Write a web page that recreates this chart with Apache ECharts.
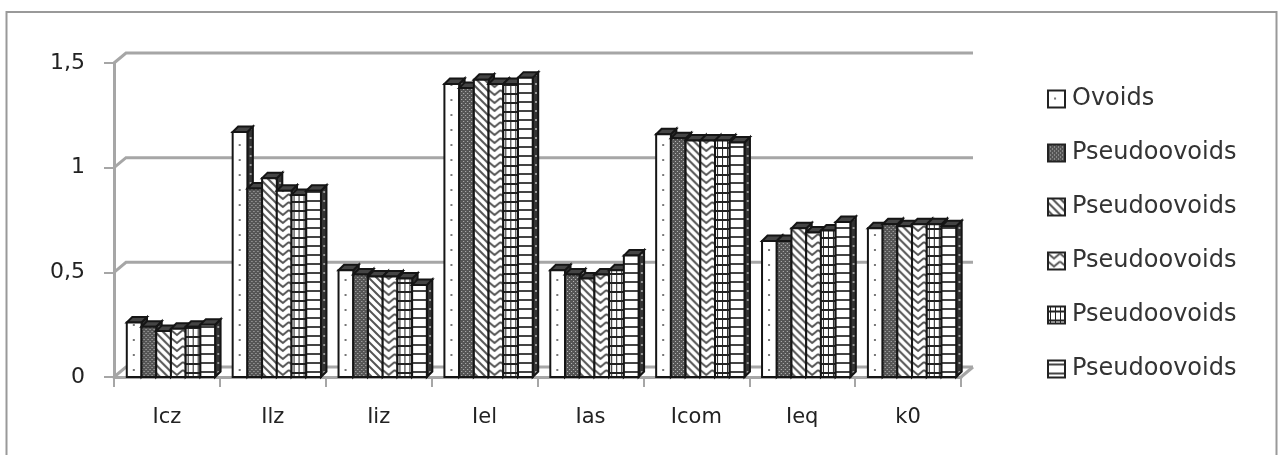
<!DOCTYPE html>
<html>
<head>
<meta charset="utf-8">
<title>Ovoids</title>
<script src="https://cdn.jsdelivr.net/npm/echarts@6/dist/echarts.min.js"></script>
<style>
    html, body { margin: 0; padding: 0; background: #fff; overflow: hidden; }
    /* the source picture is a soft upscaled screenshot */
    #container { width: 1282px; height: 455px; filter: blur(0.6px); }
</style>
</head>
<body>
<div id="container"></div>
<script>
    var categories = ['Icz', 'Ilz', 'Iiz', 'Iel', 'Ias', 'Icom', 'Ieq', 'k0'];
    var seriesNames = ['Ovoids', 'Pseudoovoids', 'Pseudoovoids', 'Pseudoovoids', 'Pseudoovoids', 'Pseudoovoids'];
    var ovoids = [0.26, 1.17, 0.51, 1.40, 0.51, 1.16, 0.65, 0.71];
    var pseudo1 = [0.24, 0.90, 0.49, 1.38, 0.49, 1.14, 0.65, 0.73];
    var pseudo2 = [0.22, 0.95, 0.48, 1.42, 0.47, 1.13, 0.71, 0.72];
    var pseudo3 = [0.23, 0.89, 0.48, 1.40, 0.49, 1.13, 0.69, 0.73];
    var pseudo4 = [0.24, 0.87, 0.47, 1.40, 0.51, 1.13, 0.70, 0.73];
    var pseudo5 = [0.25, 0.89, 0.44, 1.43, 0.58, 1.12, 0.74, 0.72];
    var gridValues = [0, 0.5, 1, 1.5];

    var depthX = 12, depthY = 10;   // back wall offset
    var barDepth = 5.5;

    function tile(w, h, draw) {
        var c = document.createElement('canvas');
        c.width = w;
        c.height = h;
        var ctx = c.getContext('2d');
        ctx.fillStyle = '#fff';
        ctx.fillRect(0, 0, w, h);
        draw(ctx);
        return {image: c, repeat: 'repeat'};
    }

    var patterns = [
        tile(15, 15, function (ctx) {
            ctx.fillStyle = '#777';
            ctx.fillRect(6, 7, 2, 2);
        }),
        tile(4, 4, function (ctx) {
            ctx.fillStyle = '#555';
            ctx.fillRect(0, 0, 4, 4);
            ctx.fillStyle = '#bbb';
            ctx.fillRect(0, 0, 1, 1);
            ctx.fillRect(2, 2, 1, 1);
        }),
        tile(8, 8, function (ctx) {
            ctx.strokeStyle = '#555';
            ctx.lineWidth = 2;
            ctx.beginPath();
            ctx.moveTo(-2, 2); ctx.lineTo(6, 10);
            ctx.moveTo(2, -2); ctx.lineTo(10, 6);
            ctx.stroke();
        }),
        tile(12, 8, function (ctx) {
            ctx.strokeStyle = '#555';
            ctx.lineWidth = 2;
            ctx.beginPath();
            ctx.moveTo(0, 1); ctx.lineTo(6, 6); ctx.lineTo(12, 1);
            ctx.stroke();
        }),
        tile(5, 9, function (ctx) {
            ctx.fillStyle = '#222';
            ctx.fillRect(2, 0, 1, 9);
            ctx.fillRect(0, 4, 5, 2);
        }),
        tile(15, 9, function (ctx) {
            ctx.fillStyle = '#444';
            ctx.fillRect(0, 3, 15, 2);
        })
    ];
    var sidePattern = tile(4, 9, function (ctx) {
        ctx.fillStyle = '#333';
        ctx.fillRect(0, 0, 4, 9);
        ctx.fillStyle = '#999';
        ctx.fillRect(1, 3, 2, 2);
    });

    function renderBar(seriesIndex) {
        return function (params, api) {
            var base = api.coord([api.value(0), 0]);
            var top = api.coord([api.value(0), api.value(1)]);
            var band = api.size([1, 0])[0];
            var w = band * 0.139;
            var x = base[0] - 3 * w + 4 + seriesIndex * w;
            var h = base[1] - top[1];
            var line = {stroke: '#151515', lineWidth: 2};
            return {
                type: 'group',
                x: x,
                y: base[1],
                children: [
                    {
                        type: 'polygon',
                        shape: {points: [[w, 0], [w + barDepth, -barDepth], [w + barDepth, -h - barDepth], [w, -h]]},
                        style: Object.assign({fill: sidePattern}, line)
                    },
                    {
                        type: 'polygon',
                        shape: {points: [[0, -h], [barDepth, -h - barDepth], [w + barDepth, -h - barDepth], [w, -h]]},
                        style: Object.assign({fill: '#444'}, line)
                    },
                    {
                        type: 'rect',
                        shape: {x: 0, y: -h, width: w, height: h},
                        style: Object.assign({fill: patterns[seriesIndex]}, line)
                    }
                ]
            };
        };
    }

    function renderWall(params, api) {
        var cs = params.coordSys;
        var y = api.coord([0, api.value(0)])[1];
        var right = cs.x + cs.width;
        var style = {fill: 'none', stroke: '#a6a6a6', lineWidth: 3};
        var children = [{
            type: 'polyline',
            shape: {points: [[cs.x, y], [cs.x + depthX, y - depthY], [right + depthX, y - depthY]]},
            style: style
        }];
        if (api.value(0) === 0) {
            children.push({
                type: 'line',
                shape: {x1: right, y1: y, x2: right + depthX, y2: y - depthY},
                style: style
            });
        }
        return {type: 'group', children: children};
    }

    var seriesValues = [ovoids, pseudo1, pseudo2, pseudo3, pseudo4, pseudo5];
    var series = [{
        type: 'custom',
        name: 'wall',
        renderItem: renderWall,
        clip: false,
        silent: true,
        encode: {y: 0},
        data: gridValues.map(function (v) { return [v]; }),
        z: 1
    }];
    // legend drops repeated names, so each series keeps a numbered name
    var legendNames = [];
    seriesValues.forEach(function (values, i) {
        var name = seriesNames[i] + ' ' + i;
        legendNames.push(name);
        series.push({
            type: 'custom',
            name: name,
            renderItem: renderBar(i),
            clip: false,
            encode: {x: 0, y: 1},
            itemStyle: {color: patterns[i], borderColor: '#222', borderWidth: 2},
            data: values.map(function (v, k) { return [k, v]; }),
            z: 2
        });
    });

    var myChart = echarts.init(document.getElementById('container'));
    var option = {
        animation: false,
        backgroundColor: '#fff',
        graphic: [{
            type: 'rect',
            shape: {x: 6.5, y: 12, width: 1270, height: 460},
            style: {fill: 'none', stroke: '#999', lineWidth: 2},
            silent: true
        }],
        legend: {
            orient: 'vertical',
            left: 1047,
            top: 87,
            padding: 0,
            itemWidth: 17,
            itemHeight: 17,
            itemGap: 30,
            icon: 'rect',
            selectedMode: false,
            data: legendNames,
            formatter: function (name) { return name.replace(/ \d$/, ''); },
            textStyle: {fontFamily: 'DejaVu Sans', fontSize: 24, color: '#333', padding: [2, 0, 0, 2]}
        },
        grid: {left: 114, top: 63, width: 847, height: 314},
        xAxis: {
            type: 'category',
            data: categories,
            axisLine: {lineStyle: {color: '#a6a6a6', width: 3}},
            axisTick: {show: true, alignWithLabel: false, length: 10, lineStyle: {color: '#a6a6a6', width: 2}},
            axisLabel: {margin: 30, fontFamily: 'DejaVu Sans', fontSize: 21, color: '#222'}
        },
        yAxis: {
            type: 'value',
            min: 0,
            max: 1.5,
            interval: 0.5,
            splitLine: {show: false},
            axisLine: {show: true, lineStyle: {color: '#a6a6a6', width: 3}},
            axisTick: {show: true, length: 10, lineStyle: {color: '#a6a6a6', width: 2}},
            axisLabel: {
                margin: 29,
                fontFamily: 'DejaVu Sans',
                fontSize: 22,
                color: '#222',
                formatter: function (v) { return String(v).replace('.', ','); }
            }
        },
        series: series
    };
    myChart.setOption(option);
</script>
</body>
</html>
